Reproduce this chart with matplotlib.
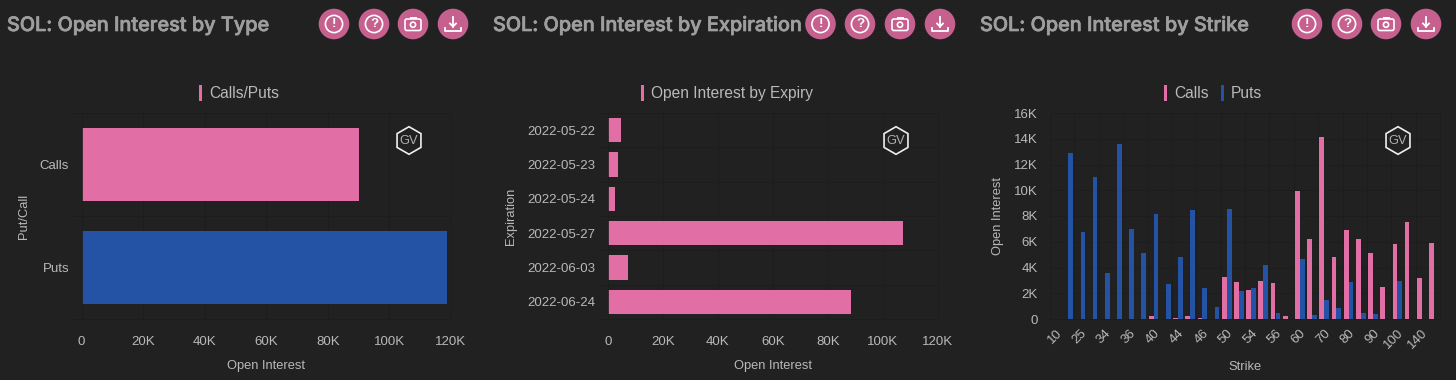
#!/usr/bin/env python3
"""SOL open interest dashboard: by type, by expiry, by strike."""
import matplotlib
matplotlib.use("Agg")
import matplotlib.pyplot as plt
import matplotlib.patheffects as pe
from matplotlib.patches import Circle, Rectangle, RegularPolygon, FancyBboxPatch
import numpy as np

W, H = 1456, 380
BG = "#212121"
GRID = "#1d1d1d"
TXT = "#b9b9b9"
TITLE = "#9e9e9e"
PINK = "#e26ea6"
BLUE = "#2453a6"
ICON = "#c6608f"

plt.rcParams["font.family"] = ["Liberation Sans", "DejaVu Sans"]

# panel 1
type_labels = ["Calls", "Puts"]
type_values = [90000, 118700]

# panel 2
expiries = ["2022-05-22", "2022-05-23", "2022-05-24", "2022-05-27", "2022-06-03", "2022-06-24"]
expiry_values = [5000, 3700, 2600, 107300, 7200, 88400]

# panel 3, every second strike is labelled in the original so the others stay blank
strike_labels = ["10", "", "25", "", "34", "", "36", "", "40", "", "44", "", "46", "", "50", "",
                 "54", "", "56", "", "60", "", "70", "", "80", "", "90", "", "100", "", "140", ""]
strike_calls = [0, 0, 0, 0, 0, 0, 0, 0, 200, 0, 100, 230, 100, 0, 3280, 2900,
                2270, 2970, 2800, 230, 9940, 6200, 14100, 4830, 6940, 6250, 5100, 2450, 5830, 7540, 3170, 5900]
strike_puts = [0, 12930, 6760, 11000, 3560, 13570, 7000, 5100, 8150, 2700, 4800, 8500, 2370, 930, 8570, 2200,
               2400, 4180, 500, 0, 4650, 300, 1500, 850, 2900, 500, 400, 0, 2970, 0, 0, 0]


def k_fmt(v, _pos=None):
    return "0" if v == 0 else f"{int(v / 1000)}K"


def make_ax(fig, left, right, top=113, bottom=319):
    ax = fig.add_axes([left / W, 1 - bottom / H, (right - left) / W, (bottom - top) / H])
    ax.set_facecolor(BG)
    for s in ax.spines.values():
        s.set_color(GRID)
        s.set_linewidth(0.6)
    ax.grid(color=GRID, lw=0.6)
    ax.set_axisbelow(True)
    ax.tick_params(colors=TXT, labelsize=9.5, length=0, pad=9)
    return ax


def hbar_panel(ax, labels, values, colors, xlabel, ylabel, labelpad):
    y = np.arange(len(labels))
    ax.barh(y, values, height=0.715, color=colors)
    ax.set_yticks(y, labels)
    ax.set_ylim(len(labels) - 0.5, -0.5)
    ax.grid(axis="y", visible=False)
    # lines run between the categories and stick out left of the axis
    ax.set_yticks(np.arange(len(labels) + 1) - 0.5, minor=True)
    ax.grid(axis="y", which="minor", color=GRID, lw=0.6)
    ax.tick_params(axis="y", which="minor", length=9, width=0.6, color=GRID)
    ax.set_xlim(0, 120000)
    ax.set_xticks(np.arange(0, 120001, 20000))
    ax.xaxis.set_major_formatter(k_fmt)
    ax.tick_params(axis="x", pad=12)
    ax.set_xlabel(xlabel, color=TXT, fontsize=9.3, labelpad=9)
    ax.set_ylabel(ylabel, color=TXT, fontsize=9.3, labelpad=labelpad)


fig = plt.figure(figsize=(W / 100, H / 100), dpi=100, facecolor=BG)

ax1 = make_ax(fig, 81.5, 451)
hbar_panel(ax1, type_labels, type_values, [PINK, BLUE], "Open Interest", "Put/Call", 7)

ax2 = make_ax(fig, 607.7, 938)
hbar_panel(ax2, expiries, expiry_values, PINK, "Open Interest", "Expiration", 7)

ax3 = make_ax(fig, 1050, 1440)
x = np.arange(len(strike_labels))
ax3.bar(x - 0.2, strike_calls, width=0.39, color=PINK)
ax3.bar(x + 0.2, strike_puts, width=0.39, color=BLUE)
ax3.set_xlim(-0.5, len(x) - 0.5)
ax3.set_ylim(0, 16000)
ax3.set_yticks(np.arange(0, 16001, 2000))
ax3.yaxis.set_major_formatter(k_fmt)
ax3.set_xticks(x[::2], strike_labels[::2], rotation=45, ha="right", rotation_mode="anchor")
ax3.grid(axis="x", visible=False)
ax3.set_xticks(x[::2] - 0.5, minor=True)
ax3.grid(axis="x", which="minor", color=GRID, lw=0.6)
ax3.tick_params(which="minor", length=0)
ax3.tick_params(axis="x", pad=6)
ax3.set_xlabel("Strike", color=TXT, fontsize=9.3, labelpad=7)
ax3.set_ylabel("Open Interest", color=TXT, fontsize=9.3, labelpad=7)

# overlay in pixel coordinates for headers, icons and watermarks
ov = fig.add_axes([0, 0, 1, 1], zorder=5)
ov.set_xlim(0, W)
ov.set_ylim(H, 0)
ov.axis("off")


def icon(cx, kind):
    cy = 24
    ov.add_patch(Circle((cx, cy), 15.3, color=ICON, lw=0))
    if kind in ("warn", "help"):
        ov.add_patch(Circle((cx, cy), 8.6, fill=False, ec="white", lw=1.2))
        ov.text(cx, cy + 0.3, "!" if kind == "warn" else "?", color="white", fontsize=9.5, weight="bold",
                ha="center", va="center", family="Liberation Sans")
    elif kind == "camera":
        ov.add_patch(FancyBboxPatch((cx - 8, cy - 5), 16, 11.5, boxstyle="round,pad=0,rounding_size=2",
                                    fill=False, ec="white", lw=1.2))
        ov.add_patch(Rectangle((cx - 3.5, cy - 7.5), 7, 2.5, color="white", lw=0))
        ov.add_patch(Circle((cx, cy + 0.7), 2.6, fill=False, ec="white", lw=1.2))
    else:
        ov.plot([cx, cx], [cy - 7, cy + 2.5], color="white", lw=1.3)
        ov.plot([cx - 3, cx, cx + 3], [cy - 0.5, cy + 2.5, cy - 0.5], color="white", lw=1.3)
        ov.plot([cx - 8, cx - 8, cx + 8, cx + 8], [cy + 4, cy + 7, cy + 7, cy + 4], color="white", lw=1.3)


def header(tx, title, icon_xs, clip_at=None):
    t = ov.text(tx, 31, title, color=TITLE, fontsize=14.3, family="Inter", weight="medium",
                ha="left", va="baseline",
                path_effects=[pe.withStroke(linewidth=0.5, foreground=TITLE)])
    if clip_at:
        t.set_clip_path(Rectangle((0, 0), clip_at, H, transform=ov.transData))
    for cx, kind in zip(icon_xs, ["warn", "help", "camera", "download"]):
        icon(cx, kind)


def legend_head(items):
    for bar_x, color, label in items:
        ov.add_patch(Rectangle((bar_x, 85), 3, 16, color=color, lw=0))
        ov.text(bar_x + 10, 98, label, color=TXT, fontsize=11.2, ha="left", va="baseline")


def gv(cx):
    ov.add_patch(RegularPolygon((cx, 140.5), 6, radius=13.8, fill=False, ec="#eeeeee", lw=1.2))
    ov.text(cx, 140.8, "GV", color="#b0b0b0", fontsize=9.3, ha="center", va="center")


header(7, "SOL: Open Interest by Type", [334, 374, 413, 453])
header(493, "SOL: Open Interest by Expiration", [820.5, 860, 900, 940], clip_at=801)
header(980, "SOL: Open Interest by Strike", [1307, 1347, 1386, 1426])

legend_head([(199, PINK, "Calls/Puts")])
legend_head([(641, PINK, "Open Interest by Expiry")])
legend_head([(1164, PINK, "Calls"), (1221, BLUE, "Puts")])

for cx in (409, 896, 1398):
    gv(cx)

fig.savefig("out.png", dpi=100, facecolor=BG)
